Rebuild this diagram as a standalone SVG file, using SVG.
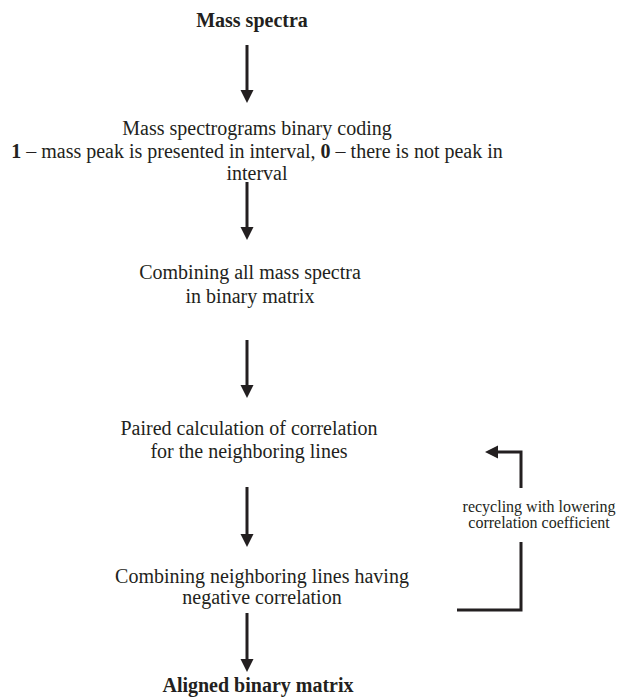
<svg xmlns="http://www.w3.org/2000/svg" width="619" height="697" viewBox="0 0 619 697">
<defs>
<style>
text{font-family:"Liberation Serif","Times New Roman",serif;fill:#231f20;text-anchor:middle}
.m{font-size:20px}
.b{font-weight:bold}
.s{font-size:16px}
.c{stroke:#231f20;stroke-width:3;fill:none}
</style>
<marker id="ah" markerUnits="userSpaceOnUse" markerWidth="14" markerHeight="14" refX="3" refY="6.5" orient="auto">
<path d="M0,0 L13,6.5 L0,13 z" fill="#231f20"/>
</marker>
</defs>
<rect width="619" height="697" fill="#fff"/>
<g id="connectors">
<line class="c" x1="247" y1="45" x2="247" y2="93" marker-end="url(#ah)"/>
<line class="c" x1="247" y1="182" x2="247" y2="230" marker-end="url(#ah)"/>
<line class="c" x1="247" y1="340" x2="247" y2="388" marker-end="url(#ah)"/>
<line class="c" x1="247" y1="487" x2="247" y2="537" marker-end="url(#ah)"/>
<line class="c" x1="247" y1="613" x2="247" y2="662" marker-end="url(#ah)"/>
<path class="c" d="M457,610 H521 V542"/>
<path class="c" d="M521,488 V452 H495" marker-end="url(#ah)"/>
</g>
<g id="n1"><text class="m b" x="252" y="27">Mass spectra</text></g>
<g id="n2">
<text class="m" x="257" y="135">Mass spectrograms binary coding</text>
<text class="m" x="257" y="158"><tspan class="b">1</tspan> – mass peak is presented in interval, <tspan class="b">0</tspan> – there is not peak in</text>
<text class="m" x="257" y="180">interval</text>
</g>
<g id="n3">
<text class="m" x="250" y="279">Combining all mass spectra</text>
<text class="m" x="250" y="303">in binary matrix</text>
</g>
<g id="n4">
<text class="m" x="249" y="435">Paired calculation of correlation</text>
<text class="m" x="249" y="458">for the neighboring lines</text>
</g>
<g id="n5">
<text class="m" x="262" y="583">Combining neighboring lines having</text>
<text class="m" x="262" y="604">negative correlation</text>
</g>
<g id="n6"><text class="m b" x="258" y="692">Aligned binary matrix</text></g>
<g id="loop-label">
<text class="s" x="539" y="512">recycling with lowering</text>
<text class="s" x="539" y="528">correlation coefficient</text>
</g>
</svg>
